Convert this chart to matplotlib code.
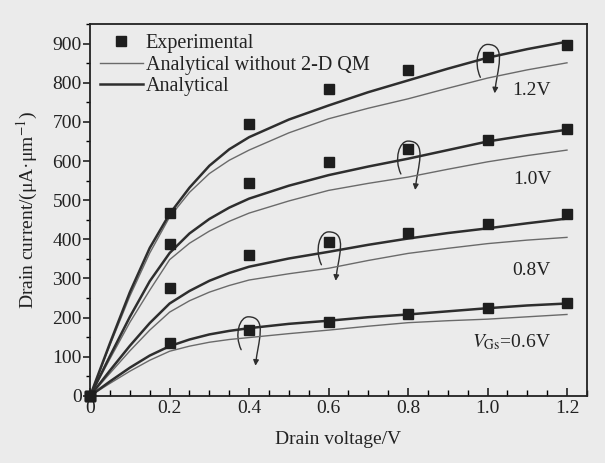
import numpy as np
import matplotlib.pyplot as plt
from matplotlib.path import Path
from matplotlib.patches import FancyArrowPatch
from matplotlib.ticker import MultipleLocator

plt.rcParams['font.family'] = ['Liberation Serif', 'DejaVu Serif']
plt.rcParams['mathtext.fontset'] = 'stix'

# experimental points
vd_exp = [0, 0.2, 0.4, 0.6, 0.8, 1.0, 1.2]
exp_12 = [0, 467, 694, 783, 832, 866, 897]
exp_10 = [0, 388, 543, 597, 630, 653, 681]
exp_08 = [0, 276, 360, 393, 416, 439, 464]
exp_06 = [0, 135, 168, 190, 209, 225, 238]

# curves
vd = [0, 0.05, 0.1, 0.15, 0.2, 0.25, 0.3, 0.35, 0.4, 0.5, 0.6, 0.7, 0.8, 0.9, 1.0, 1.1, 1.2]
ana_12 = [0, 135, 265, 378, 465, 532, 588, 630, 661, 706, 742, 776, 806, 836, 864, 886, 905]
noqm_12 = [0, 130, 255, 365, 457, 520, 568, 602, 628, 672, 708, 735, 759, 786, 812, 833, 851]
ana_10 = [0, 102, 202, 293, 365, 415, 452, 481, 504, 537, 564, 586, 606, 628, 650, 666, 680]
noqm_10 = [0, 95, 188, 270, 348, 390, 421, 446, 467, 498, 525, 543, 559, 579, 598, 614, 628]
ana_08 = [0, 65, 128, 186, 236, 268, 294, 314, 330, 351, 368, 386, 402, 416, 428, 441, 453]
noqm_08 = [0, 58, 115, 168, 214, 243, 265, 282, 296, 312, 326, 346, 364, 377, 389, 398, 405]
ana_06 = [0, 37, 72, 103, 127, 144, 157, 166, 173, 184, 192, 201, 208, 216, 224, 231, 236]
noqm_06 = [0, 32, 63, 91, 114, 127, 137, 144, 149, 159, 168, 178, 187, 192, 196, 202, 208]

# curl annotations: top of each loop
loop_tops = [(1.0, 898), (0.8, 651), (0.6, 419), (0.398, 202)]

vgs_labels = ['1.2V', '1.0V', '0.8V', r'$V_{\mathrm{Gs}}$=0.6V']
label_pos = [(1.112, 781), (1.112, 553), (1.11, 321), (1.06, 138)]

bg = '#ebebeb'
dark = '#2e2e2e'
light = '#6a6a6a'

fig = plt.figure(figsize=(6.05, 4.63), dpi=100, facecolor=bg)
ax = fig.add_axes([0.149, 0.145, 0.821, 0.803], facecolor=bg)

for y in [noqm_12, noqm_10, noqm_08, noqm_06]:
    ax.plot(vd, y, color=light, lw=1.0)
for y in [ana_12, ana_10, ana_08, ana_06]:
    ax.plot(vd, y, color=dark, lw=1.8)
for y in [exp_12, exp_10, exp_08, exp_06]:
    ax.plot(vd_exp, y, 's', color='#1e1e1e', ms=7, clip_on=False, zorder=5)

# legend handles
ax.plot([], [], 's', color='#1e1e1e', ms=7, label='Experimental')
ax.plot([], [], color=light, lw=1.0, label='Analytical without 2-D QM')
ax.plot([], [], color=dark, lw=1.8, label='Analytical')
h, l = ax.get_legend_handles_labels()
ax.legend(h[-3:], l[-3:], loc='upper left', frameon=False, fontsize=14.5,
          handlelength=2.1, handletextpad=0.15, labelspacing=0.12,
          borderaxespad=0.1, bbox_to_anchor=(0.0, 1.0), labelcolor='#222222')

for (xt, yt) in loop_tops:
    verts = [(xt - 0.018, yt - 84), (xt - 0.036, yt - 45), (xt - 0.022, yt), (xt, yt),
             (xt + 0.05, yt), (xt + 0.024, yt - 65), (xt + 0.018, yt - 125)]
    codes = [Path.MOVETO, Path.CURVE4, Path.CURVE4, Path.CURVE4, Path.CURVE4, Path.CURVE4, Path.CURVE4]
    p = FancyArrowPatch(path=Path(verts, codes), arrowstyle='-|>', mutation_scale=8,
                        color=dark, lw=1.0)
    ax.add_patch(p)

for txt, (x, y) in zip(vgs_labels, label_pos):
    ax.text(x, y, txt, fontsize=14, ha='center', va='center', color='#222222')

ax.set_xlim(0, 1.25)
ax.set_ylim(0, 950)
ax.xaxis.set_major_locator(MultipleLocator(0.2))
ax.xaxis.set_minor_locator(MultipleLocator(0.05))
ax.yaxis.set_major_locator(MultipleLocator(100))
ax.yaxis.set_minor_locator(MultipleLocator(50))
ax.set_xticks([0, 0.2, 0.4, 0.6, 0.8, 1.0, 1.2])
ax.set_xticklabels(['0', '0.2', '0.4', '0.6', '0.8', '1.0', '1.2'])
ax.tick_params(axis='x', which='major', direction='in', length=6, width=1.2, labelsize=14, pad=3)
ax.tick_params(axis='x', which='minor', direction='in', length=4, width=1.0)
ax.tick_params(axis='y', which='major', direction='out', length=5, width=1.2, labelsize=14, pad=1)
ax.tick_params(axis='y', which='minor', direction='out', length=3, width=1.0)
ax.tick_params(colors='#222222')
for s in ax.spines.values():
    s.set_linewidth(1.3)
    s.set_color('#222222')

ax.set_xlabel('Drain voltage/V', fontsize=14, color='#222222', labelpad=10)
ax.set_ylabel('Drain current/(μA·μm$^{-1}$)', fontsize=14, color='#222222', labelpad=9)

fig.savefig('out.png', dpi=100, facecolor=bg)
